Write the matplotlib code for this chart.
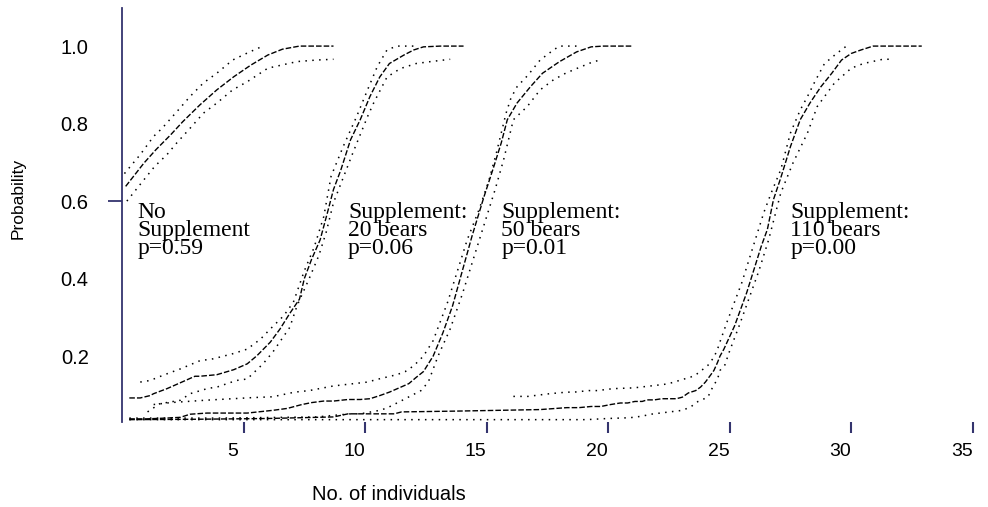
import matplotlib.pyplot as plt
from matplotlib.transforms import ScaledTranslation

# No supplement
none_mid_x = [0.15, 0.9, 1.4, 2.0, 2.5, 3.2, 3.9, 4.6, 5.3, 6.0, 6.6, 7.3, 8.7]
none_mid = [0.638, 0.698, 0.733, 0.771, 0.805, 0.848, 0.887, 0.921, 0.951, 0.977, 0.992, 1.0, 1.0]
none_hi_x = [0.1, 0.35, 0.75, 1.3, 1.65, 2.3, 2.8, 3.35, 3.9, 4.55, 5.25, 5.8]
none_hi = [0.671, 0.69, 0.72, 0.767, 0.788, 0.834, 0.87, 0.905, 0.93, 0.964, 0.985, 1.0]
none_lo_x = [0.2, 0.9, 1.35, 1.85, 2.25, 2.8, 3.35, 3.9, 4.55, 5.15, 6.0, 7.2, 8.0, 8.7]
none_lo = [0.60, 0.655, 0.69, 0.72, 0.75, 0.788, 0.827, 0.853, 0.887, 0.908, 0.943, 0.96, 0.964, 0.966]

# 20 bears
b20_mid_x = [0.3, 0.75, 1.15, 1.3, 1.85, 2.5, 3.0, 3.2, 3.9, 4.6, 5.15, 5.55, 6.1, 6.5, 6.9, 7.3,
             7.5, 7.8, 8.15, 8.45, 8.7, 9.0, 9.4, 9.8, 10.2, 10.6, 11.0, 11.6, 12.0, 12.4, 13.1, 14.05]
b20_mid = [0.092, 0.092, 0.098, 0.103, 0.116, 0.134, 0.148, 0.148, 0.152, 0.165, 0.18, 0.201, 0.236, 0.27,
           0.31, 0.347, 0.40, 0.45, 0.50, 0.57, 0.63, 0.68, 0.758, 0.81, 0.87, 0.92, 0.955, 0.977, 0.99,
           0.998, 1.0, 1.0]
b20_hi_x = [0.75, 1.15, 1.75, 2.4, 3.2, 3.75, 4.55, 5.15, 5.7, 6.1, 6.65, 7.05, 7.5, 7.9, 8.3, 8.6,
            9.1, 9.65, 10.1, 10.5, 10.9, 11.3, 12.0]
b20_hi = [0.133, 0.137, 0.152, 0.167, 0.188, 0.193, 0.206, 0.218, 0.244, 0.27, 0.304, 0.339, 0.42,
          0.48, 0.56, 0.664, 0.741, 0.818, 0.887, 0.947, 0.99, 1.0, 1.0]
b20_lo_x = [1.05, 1.55, 2.4, 2.8, 3.5, 3.95, 4.7, 5.15, 5.8, 6.2, 6.9, 7.2, 7.7, 8.1, 8.4, 8.7,
            9.5, 10.1, 10.35, 10.9, 11.45, 12.1, 12.7, 13.5]
b20_lo = [0.056, 0.077, 0.086, 0.103, 0.116, 0.121, 0.137, 0.141, 0.18, 0.21, 0.274, 0.33, 0.40,
          0.46, 0.52, 0.596, 0.725, 0.818, 0.853, 0.92, 0.942, 0.955, 0.96, 0.966]

# 50 bears
b50_mid_x = [0.3, 1.0, 1.8, 2.4, 2.8, 3.5, 4.5, 5.15, 5.6, 6.2, 6.8, 7.4, 7.8, 8.3, 8.7, 9.3, 9.8,
             10.2, 10.6, 11.0, 11.4, 11.8, 12.1, 12.4, 12.8, 13.2, 13.6, 14.0, 14.4, 14.9, 15.3, 15.6,
             15.85, 16.25, 16.8, 17.3, 18.0, 18.7, 19.3, 19.8, 21.0]
b50_mid = [0.038, 0.038, 0.04, 0.042, 0.05, 0.053, 0.053, 0.053, 0.056, 0.06, 0.065, 0.075, 0.08,
           0.084, 0.084, 0.088, 0.088, 0.09, 0.098, 0.107, 0.118, 0.129, 0.145, 0.16, 0.2, 0.26, 0.33,
           0.42, 0.51, 0.613, 0.69, 0.75, 0.81, 0.853, 0.895, 0.93, 0.96, 0.985, 0.998, 1.0, 1.0]
b50_hi_x = [1.3, 2.0, 3.4, 5.4, 6.2, 6.8, 7.1, 7.7, 8.7, 10.1, 10.5, 11.3, 11.65, 12.0, 12.4, 12.8,
            13.1, 13.4, 13.8, 14.2, 14.7, 15.1, 15.4, 15.8, 16.0, 16.25, 16.7, 17.2, 17.75, 18.0, 18.7]
b50_hi = [0.075, 0.08, 0.086, 0.093, 0.095, 0.103, 0.107, 0.111, 0.123, 0.133, 0.14, 0.152, 0.16,
          0.175, 0.2, 0.24, 0.29, 0.34, 0.42, 0.5, 0.58, 0.655, 0.724, 0.827, 0.866, 0.895, 0.925,
          0.964, 0.99, 1.0, 1.0]
b50_lo_x = [0.3, 4.0, 8.0, 9.4, 9.8, 10.6, 10.9, 11.5, 12.3, 12.6, 13.0, 13.5, 14.0, 14.5, 15.0,
            15.35, 15.7, 16.1, 16.67, 17.2, 17.75, 18.25, 18.7, 19.4, 19.7]
b50_lo = [0.04, 0.04, 0.043, 0.051, 0.051, 0.06, 0.066, 0.085, 0.111, 0.133, 0.2, 0.27, 0.36, 0.46,
          0.56, 0.63, 0.707, 0.81, 0.844, 0.887, 0.913, 0.93, 0.942, 0.96, 0.964]

# 110 bears
b110_mid_x = [0.3, 3.0, 6.0, 8.7, 9.3, 11.2, 11.5, 13.7, 17.2, 18.3, 18.8, 19.3, 19.7, 20.1, 20.5,
              20.8, 21.1, 21.4, 21.6, 21.9, 22.2, 22.8, 23.05, 23.3, 23.6, 23.8, 24.0, 24.2, 24.35,
              24.5, 24.6, 24.76, 25.2, 25.45, 25.7, 26.0, 26.3, 26.55, 26.8, 27.1, 27.5, 27.9, 28.3,
              28.75, 29.2, 29.6, 30.0, 30.4, 30.9, 31.7, 32.9]
b110_mid = [0.036, 0.037, 0.039, 0.043, 0.051, 0.051, 0.056, 0.058, 0.062, 0.067, 0.067, 0.07, 0.07,
            0.075, 0.079, 0.079, 0.083, 0.083, 0.087, 0.087, 0.09, 0.09, 0.094, 0.105, 0.111, 0.12,
            0.133, 0.15, 0.163, 0.184, 0.2, 0.218, 0.278, 0.321, 0.364, 0.424, 0.484, 0.527, 0.604,
            0.66, 0.741, 0.81, 0.853, 0.895, 0.93, 0.964, 0.981, 0.99, 1.0, 1.0, 1.0]
b110_hi_x = [16.1, 16.7, 17.6, 18.3, 18.6, 19.2, 19.55, 20.2, 21.05, 21.75, 22.3, 22.6, 23.4, 23.6,
             23.7, 24.1, 24.35, 24.5, 24.6, 24.9, 25.2, 25.5, 25.8, 26.1, 26.4, 26.7, 27.1, 27.5,
             27.9, 28.2, 28.5, 28.9, 29.4, 29.8]
b110_hi = [0.096, 0.096, 0.103, 0.107, 0.107, 0.111, 0.111, 0.116, 0.118, 0.123, 0.127, 0.131, 0.146,
           0.152, 0.156, 0.176, 0.197, 0.218, 0.237, 0.29, 0.34, 0.39, 0.45, 0.51, 0.57, 0.62, 0.681,
           0.776, 0.835, 0.87, 0.908, 0.955, 0.981, 1.0]
b110_lo_x = [0.3, 19.1, 20.0, 20.9, 21.4, 21.75, 23.05, 23.4, 23.6, 23.7, 24.1, 24.3, 24.5, 24.6,
             24.8, 25.0, 25.4, 25.8, 26.2, 26.6, 27.1, 27.6, 28.2, 28.6, 29.3, 30.0, 30.5, 31.3, 31.7]
b110_lo = [0.036, 0.036, 0.039, 0.041, 0.045, 0.05, 0.06, 0.069, 0.079, 0.083, 0.094, 0.12, 0.141,
           0.163, 0.177, 0.214, 0.28, 0.35, 0.42, 0.5, 0.621, 0.698, 0.776, 0.844, 0.904, 0.943,
           0.955, 0.966, 0.966]

labels = ['No\nSupplement\np=0.59', 'Supplement:\n20 bears\np=0.06',
          'Supplement:\n50 bears\np=0.01', 'Supplement:\n110 bears\np=0.00']
label_x = [0.65, 9.3, 15.6, 27.5]
label_y = 0.598

xticks = [5, 10, 15, 20, 25, 30, 35]
yticks = [0.2, 0.4, 0.6, 0.8, 1.0]

navy = '#34346e'
mid_style = dict(color='black', lw=1.0, ls=(0, (4, 1.5)))
band_style = dict(color='black', lw=1.1, ls=(0, (1, 3.5)))

fig = plt.figure(figsize=(9.88, 5.07), dpi=100)
ax = fig.add_axes([0.1235, 0.1677, 0.8685, 0.8163])

groups = [
    (none_mid_x, none_mid, none_hi_x, none_hi, none_lo_x, none_lo),
    (b20_mid_x, b20_mid, b20_hi_x, b20_hi, b20_lo_x, b20_lo),
    (b50_mid_x, b50_mid, b50_hi_x, b50_hi, b50_lo_x, b50_lo),
    (b110_mid_x, b110_mid, b110_hi_x, b110_hi, b110_lo_x, b110_lo),
]
for mx, my, hx, hy, lx, ly in groups:
    ax.plot(mx, my, **mid_style)
    ax.plot(hx, hy, **band_style)
    ax.plot(lx, ly, **band_style)

for lab, lx in zip(labels, label_x):
    ax.text(lx, label_y, lab, family='Liberation Serif', fontsize=17,
            va='top', ha='left', linespacing=0.82)

ax.set_xlim(0, 35.3)
ax.set_ylim(0.03, 1.098)

for s in ['top', 'right', 'bottom']:
    ax.spines[s].set_visible(False)
ax.spines['left'].set_color(navy)
ax.spines['left'].set_linewidth(1.3)

ax.set_xticks(xticks)
ax.set_xticklabels([str(t) for t in xticks])
ax.tick_params(axis='x', direction='out', length=8, width=1.5, color=navy,
               labelsize=14, pad=7)
off = ScaledTranslation(-11 / 100, 0, fig.dpi_scale_trans)
for lbl in ax.get_xticklabels():
    lbl.set_transform(lbl.get_transform() + off)

# only the 0.6 tick has a visible mark
ax.set_yticks(yticks)
ax.set_yticklabels(['%.1f' % t for t in yticks])
ax.tick_params(axis='y', length=10, width=1.3, color=navy, labelsize=14.5, pad=14)
for t, tick in zip(yticks, ax.yaxis.get_major_ticks()):
    tick.tick1line.set_visible(t == 0.6)

for lbl in ax.get_xticklabels() + ax.get_yticklabels():
    lbl.set_family('Liberation Sans')

ax.set_xlabel('No. of individuals', family='Liberation Sans', fontsize=14.5)
ax.set_ylabel('Probability', family='Liberation Sans', fontsize=12.5)
ax.xaxis.set_label_coords(0.311, -0.152)
ax.yaxis.set_label_coords(-0.112, 0.54)

fig.savefig('out.png', dpi=100)
